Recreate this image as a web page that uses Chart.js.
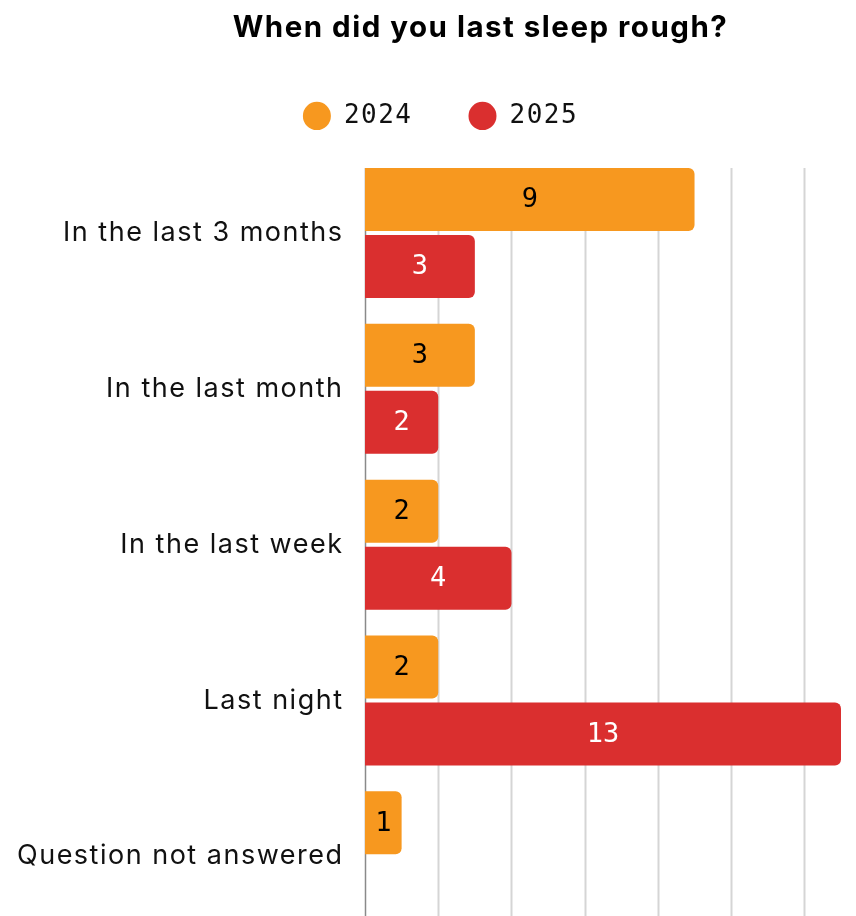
<!DOCTYPE html>
<html>
<head>
<meta charset="utf-8">
<script src="https://cdn.jsdelivr.net/npm/chart.js@4/dist/chart.umd.min.js"></script>
<style>
  html, body { margin: 0; padding: 0; background: #fff; overflow: hidden; }
  canvas { display: block; }
</style>
</head>
<body>
<canvas id="chart" width="856" height="972"></canvas>
<script>
// Survey answers: when respondents last slept rough
const categories = ['In the last 3 months', 'In the last month', 'In the last week', 'Last night', 'Question not answered'];
const seriesNames = ['2024', '2025'];
const values2024 = [9, 3, 2, 2, 1];
const values2025 = [3, 2, 4, 13, null];
const gridValues = [0, 2, 4, 6, 8, 10, 12];
const axisMax = 13;

const ORANGE = '#F7981F';
const RED = '#DA2F2F';
const LETTER_SPACING = '1.5px';

// Slightly open tracking for all canvas text, plus header placement
const tracking = {
  id: 'tracking',
  beforeUpdate(chart) { chart.ctx.letterSpacing = LETTER_SPACING; },
  beforeLayout(chart) {
    chart.ctx.letterSpacing = LETTER_SPACING;
    // leave extra room between the legend row and the bars
    const lg = chart.legend;
    if (lg && !lg._extraRoom) {
      const fit = lg.fit;
      lg.fit = function () { fit.call(this); this.height += 16.1; };
      lg._extraRoom = true;
    }
  },
  afterLayout(chart) {
    const t = chart.titleBlock;
    if (t) { t.left += 60; t.right += 60; }
    const lg = chart.legend;
    if (lg) { lg.left += 20; lg.right += 20; }
  },
  beforeDraw(chart) { chart.ctx.letterSpacing = LETTER_SPACING; }
};

// Vertical guide lines, from the top of the first bar downwards
const guideLines = {
  id: 'guideLines',
  beforeDatasetsDraw(chart) {
    const { ctx, chartArea, scales } = chart;
    const first = chart.getDatasetMeta(0).data[0];
    const top = first ? first.y - first.height / 2 : chartArea.top;
    ctx.save();
    gridValues.forEach(v => {
      const x = Math.round(scales.x.getPixelForValue(v)) + 0.5;
      ctx.beginPath();
      ctx.strokeStyle = v === 0 ? '#8a8a8a' : '#d5d5d5';
      ctx.lineWidth = v === 0 ? 1.5 : 2;
      ctx.moveTo(x, top);
      ctx.lineTo(x, chart.height);
      ctx.stroke();
    });
    ctx.restore();
  }
};

// Value written in the middle of each bar
const valueLabels = {
  id: 'valueLabels',
  afterDatasetsDraw(chart) {
    const { ctx } = chart;
    const colors = ['#000000', '#ffffff'];
    ctx.save();
    ctx.letterSpacing = '0px';
    ctx.font = '27px "DejaVu Sans Mono"';
    ctx.textAlign = 'center';
    ctx.textBaseline = 'middle';
    chart.data.datasets.forEach((ds, di) => {
      const meta = chart.getDatasetMeta(di);
      meta.data.forEach((bar, i) => {
        const v = ds.data[i];
        if (v === null || v === undefined) return;
        ctx.fillStyle = colors[di];
        ctx.fillText(String(v), (bar.x + bar.base) / 2, bar.y + 1);
      });
    });
    ctx.restore();
  }
};

new Chart(document.getElementById('chart'), {
  type: 'bar',
  data: {
    labels: categories,
    datasets: [
      { label: seriesNames[0], data: values2024, backgroundColor: ORANGE },
      { label: seriesNames[1], data: values2025, backgroundColor: RED }
    ]
  },
  options: {
    indexAxis: 'y',
    responsive: false,
    animation: false,
    categoryPercentage: 0.86,
    barPercentage: 0.94,
    borderRadius: 6,
    borderSkipped: 'start',
    layout: { padding: { top: 0, right: 15, bottom: 0, left: 0 } },
    scales: {
      x: { type: 'linear', min: 0, max: axisMax, display: false },
      y: {
        grid: { display: false, drawTicks: false },
        border: { display: false },
        ticks: {
          color: '#111',
          padding: 21.5,
          font: { family: 'Inter', size: 27 }
        },
        afterFit(scale) { scale.width = 365; }
      }
    },
    plugins: {
      title: {
        display: true,
        text: 'When did you last sleep rough?',
        color: '#000',
        font: { family: 'Inter', size: 29.5, weight: 'bold' },
        padding: { top: 10, bottom: 1.5 }
      },
      legend: {
        position: 'top',
        labels: {
          usePointStyle: true,
          pointStyle: 'circle',
          pointStyleWidth: 28,
          boxHeight: 20,
          padding: 56,
          color: '#111',
          font: { family: 'DejaVu Sans Mono', size: 26 }
        }
      },
      tooltip: { enabled: false }
    }
  },
  plugins: [tracking, guideLines, valueLabels]
});
</script>
</body>
</html>
